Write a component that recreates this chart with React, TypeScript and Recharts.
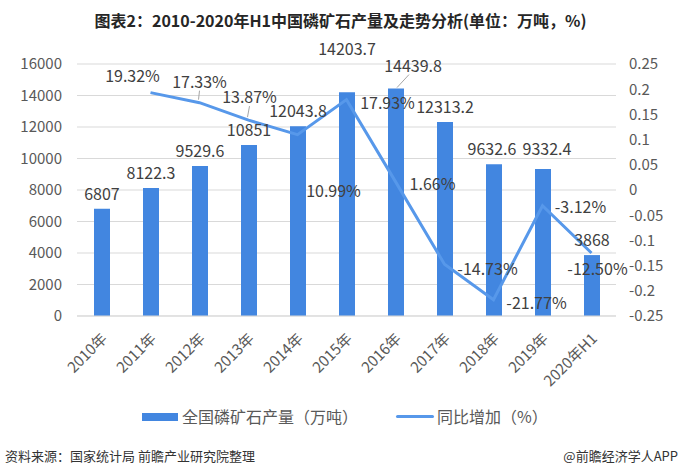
import React from "react";
import {
  ComposedChart,
  Bar,
  Line,
  XAxis,
  YAxis,
  CartesianGrid,
  LabelList,
} from "recharts";

const categories = [
  "2010年",
  "2011年",
  "2012年",
  "2013年",
  "2014年",
  "2015年",
  "2016年",
  "2017年",
  "2018年",
  "2019年",
  "2020年H1",
];
const output = [6807, 8122.3, 9529.6, 10851, 12043.8, 14203.7, 14439.8, 12313.2, 9632.6, 9332.4, 3868];
const growth = [null, 0.1932, 0.1733, 0.1387, 0.1099, 0.1793, 0.0166, -0.1473, -0.2177, -0.0312, -0.125];
const leftTicks = [0, 2000, 4000, 6000, 8000, 10000, 12000, 14000, 16000];
const rightTicks = [-0.25, -0.2, -0.15, -0.1, -0.05, 0, 0.05, 0.1, 0.15, 0.2, 0.25];

// label nudges (dx, dy from default spot), kept apart from the data
const barLabelShift = [
  [0, 0], [0, 0], [0, 0], [0, 0], [0, 0], [0, -28], [17, -8], [0, 0], [-2, 0], [4, -5], [0, 0],
];
const lineLabelShift = [
  [0, 0], [-18, -18], [0, -22], [1, -24], [36, 55], [41, 2], [37, 1], [43, 4], [43, 2], [38, 0], [6, 15],
];

const BAR = "#4286e0";
const LINE = "#5798ea";
const FONT = '"Noto Sans CJK SC", "Noto Sans", sans-serif';

const data = categories.map((c, i) => ({
  name: c,
  output: output[i],
  growth: growth[i],
}));

function BarLabel(props: any) {
  const { x, y, width, value, index } = props;
  const [dx, dy] = barLabelShift[index] || [0, 0];
  const cx = x + width / 2;
  const ly = y - 16 + dy;
  return (
    <g>
      {index === 6 && (
        <line x1={cx + 1} y1={y - 1} x2={cx + dx - 4} y2={ly + 10} stroke="#a6a6a6" strokeWidth={1} />
      )}
      <text
        x={cx + dx}
        y={ly}
        textAnchor="middle"
        dominantBaseline="central"
        fontSize={16}
        fontFamily={FONT}
        fill="#404040"
      >
        {String(value)}
      </text>
    </g>
  );
}

function LineLabel(props: any) {
  const { x, y, value, index } = props;
  if (value == null) return null;
  const [dx, dy] = lineLabelShift[index] || [0, 0];
  return (
    <g>
      {(index === 2 || index === 3) && (
        <line x1={x + dx} y1={y + dy + 10} x2={x - 1} y2={y - 3} stroke="#a6a6a6" strokeWidth={1} />
      )}
      <text
        x={x + dx}
        y={y + dy}
        textAnchor="middle"
        dominantBaseline="central"
        fontSize={16}
        fontFamily={FONT}
        fill="#404040"
      >
        {(value * 100).toFixed(2) + "%"}
      </text>
    </g>
  );
}

function XTick(props: any) {
  const { x, y, payload } = props;
  return (
    <g transform={`translate(${x + 2},${y + 19})`}>
      <text
        textAnchor="end"
        dominantBaseline="central"
        transform="rotate(-45)"
        fontSize={15}
        fontFamily={FONT}
        fill="#595959"
      >
        {payload.value}
      </text>
    </g>
  );
}

const fmtRight = (v: number) => {
  const s = Number(v.toFixed(2)).toString();
  return s === "-0" ? "0" : s;
};

export default function App() {
  return (
    <div
      style={{
        position: "absolute",
        left: 0,
        top: 0,
        width: 681,
        height: 476,
        background: "#fff",
        fontFamily: FONT,
        overflow: "hidden",
      }}
    >
      <div
        style={{
          position: "absolute",
          top: 9,
          left: 0,
          width: 681,
          textAlign: "center",
          fontSize: 16,
          fontWeight: 700,
          color: "#262626",
          lineHeight: "22px",
        }}
      >
        图表2：2010-2020年H1中国磷矿石产量及走势分析(单位：万吨，%)
      </div>
      <div style={{ position: "absolute", left: 0, top: 0 }}>
        <ComposedChart
          width={681}
          height={400}
          data={data}
          margin={{ top: 64, right: 0, left: 0, bottom: 0 }}
        >
          <CartesianGrid yAxisId="left" vertical={false} stroke="#d9d9d9" strokeWidth={1} />
          <XAxis
            dataKey="name"
            interval={0}
            height={84}
            axisLine={{ stroke: "#d9d9d9" }}
            tickLine={false}
            tickSize={0}
            tickMargin={0}
            tick={<XTick />}
          />
          <YAxis
            yAxisId="left"
            width={77}
            domain={[0, 16000]}
            ticks={leftTicks}
            axisLine={false}
            tickLine={false}
            tickMargin={9}
            tick={{ fontSize: 15, fill: "#595959", fontFamily: FONT }}
          />
          <YAxis
            yAxisId="right"
            orientation="right"
            width={65}
            domain={[-0.25, 0.25]}
            ticks={rightTicks}
            tickFormatter={fmtRight}
            axisLine={false}
            tickLine={false}
            tickMargin={7}
            tick={{ fontSize: 15, fill: "#595959", fontFamily: FONT, textAnchor: "start" }}
          />
          <Bar yAxisId="left" dataKey="output" fill={BAR} barSize={16} isAnimationActive={false}>
            <LabelList dataKey="output" content={<BarLabel />} />
          </Bar>
          <Line
            yAxisId="right"
            dataKey="growth"
            stroke={LINE}
            strokeWidth={3}
            dot={false}
            activeDot={false}
            isAnimationActive={false}
          >
            <LabelList dataKey="growth" content={<LineLabel />} />
          </Line>
        </ComposedChart>
      </div>
      <div
        style={{
          position: "absolute",
          top: 405,
          left: 0,
          width: 681,
          height: 22,
          fontSize: 16,
          color: "#595959",
        }}
      >
        <div style={{ position: "absolute", left: 142, top: 8, width: 36, height: 8, background: BAR }} />
        <div style={{ position: "absolute", left: 182, top: 0, lineHeight: "22px", whiteSpace: "nowrap" }}>
          全国磷矿石产量（万吨）
        </div>
        <div
          style={{ position: "absolute", left: 396, top: 10, width: 38, height: 3, background: LINE, borderRadius: 2 }}
        />
        <div style={{ position: "absolute", left: 437, top: 0, lineHeight: "22px", whiteSpace: "nowrap" }}>
          同比增加（%）
        </div>
      </div>
      <div
        style={{
          position: "absolute",
          left: 5,
          top: 447,
          fontSize: 13,
          color: "#333",
          lineHeight: "18px",
          whiteSpace: "nowrap",
        }}
      >
        资料来源：国家统计局 前瞻产业研究院整理
      </div>
      <div
        style={{
          position: "absolute",
          right: 3,
          top: 447,
          fontSize: 13,
          color: "#333",
          lineHeight: "18px",
          whiteSpace: "nowrap",
        }}
      >
        @前瞻经济学人APP
      </div>
    </div>
  );
}
